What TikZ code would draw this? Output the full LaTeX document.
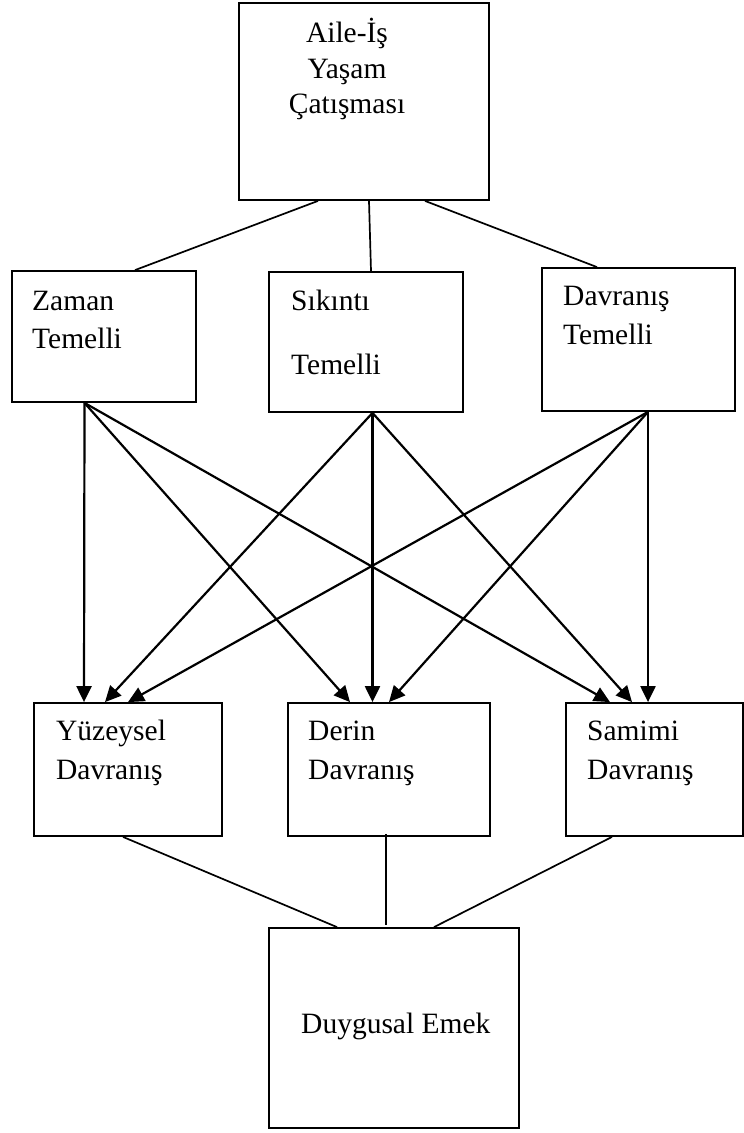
\documentclass[tikz,border=0pt]{standalone}
\usepackage{fontspec}
\setmainfont{Liberation Serif}
\usetikzlibrary{arrows.meta}
\tikzset{
  box/.style={draw, line width=1.8pt, inner sep=0pt, rectangle},
  lbl/.style={inner sep=0pt, anchor=base west, font=\fontsize{29.5}{35}\selectfont},
  clbl/.style={inner sep=0pt, anchor=base, font=\fontsize{29.5}{35}\selectfont},
  link/.style={line width=1.7pt},
  arr/.style={line width=2.2pt, -{Triangle[length=16pt,width=15pt]}}
}
\begin{document}
\begin{tikzpicture}[x=1pt,y=-1pt]
\useasboundingbox (0,0) rectangle (744,1133);
% boxes
\node[box, minimum width=250pt, minimum height=197pt] (top) at (364,101.5) {};
\node[box, minimum width=184pt, minimum height=131pt] (zaman) at (104,336.5) {};
\node[box, minimum width=194pt, minimum height=140pt] (sik) at (366,342) {};
\node[box, minimum width=193pt, minimum height=143pt] (dav) at (638.5,339.5) {};
\node[box, minimum width=188pt, minimum height=133pt] (yuz) at (128,769.5) {};
\node[box, minimum width=202pt, minimum height=133pt] (der) at (389,769.5) {};
\node[box, minimum width=177pt, minimum height=133pt] (sam) at (654.5,769.5) {};
\node[box, minimum width=250pt, minimum height=200pt] (duy) at (394,1028) {};
% texts
\node[clbl] (t1) at (347,42) {Aile-İş};
\node[clbl] (t2) at (347,78) {Yaşam};
\node[clbl] (t3) at (347,113) {Çatışması};
\node[lbl] (z1) at (32,310) {Zaman};
\node[lbl] (z2) at (32,348) {Temelli};
\node[lbl] (s1) at (291,310) {Sıkıntı};
\node[lbl] (s2) at (291,374) {Temelli};
\node[lbl] (d1) at (563,305) {Davranış};
\node[lbl] (d2) at (563,344) {Temelli};
\node[lbl] (y1) at (56,740) {Yüzeysel};
\node[lbl] (y2) at (56,779) {Davranış};
\node[lbl] (r1) at (308,740) {Derin};
\node[lbl] (r2) at (308,779) {Davranış};
\node[lbl] (m1) at (587,740) {Samimi};
\node[lbl] (m2) at (587,779) {Davranış};
\node[lbl] (e1) at (301,1033) {Duygusal Emek};
% top links
\draw[link] ([xshift=-46pt]top.south) -- ([xshift=31pt]zaman.north);
\draw[link] ([xshift=5pt]top.south) -- ([xshift=5pt]sik.north);
\draw[link] ([xshift=61pt]top.south) -- ([xshift=-41.5pt]dav.north);
% arrows
\draw[arr] ([xshift=-19.5pt]zaman.south) -- ([xshift=-44pt]yuz.north);
\draw[arr] ([xshift=-19.5pt]zaman.south) -- ([xshift=-39pt]der.north);
\draw[arr] ([xshift=-19.5pt]zaman.south) -- ([xshift=-44.5pt]sam.north);
\draw[arr] ([xshift=6.5pt]sik.south) -- ([xshift=-23pt]yuz.north);
\draw[arr] ([xshift=6.5pt]sik.south) -- ([xshift=-16.5pt]der.north);
\draw[arr] ([xshift=6.5pt]sik.south) -- ([xshift=-22.5pt]sam.north);
\draw[arr] ([xshift=9.5pt]dav.south) -- (yuz.north);
\draw[arr] ([xshift=9.5pt]dav.south) -- (der.north);
\draw[arr] ([xshift=9.5pt]dav.south) -- ([xshift=-6.5pt]sam.north);
% bottom links
\draw[link] ([xshift=-5pt]yuz.south) -- ([xshift=-57pt]duy.north);
\draw[link] ([xshift=-3pt,yshift=3pt]der.south) -- ([xshift=-8pt,yshift=2pt]duy.north);
\draw[link] ([xshift=-42.5pt]sam.south) -- ([xshift=40pt]duy.north);
\end{tikzpicture}
\end{document}
